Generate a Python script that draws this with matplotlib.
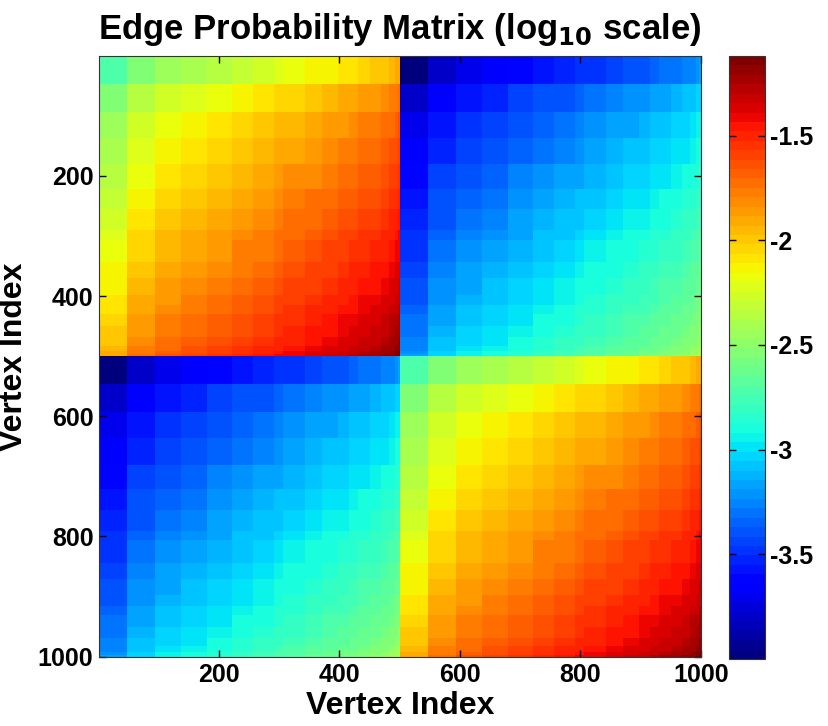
import numpy as np
import matplotlib
matplotlib.use("Agg")
import matplotlib.pyplot as plt

# ---- data ----
# degree classes within each community (vertex index boundaries, 500 vertices per community)
class_bounds = [0, 46, 93, 136, 180, 221, 255, 290, 306, 343, 370, 397, 415, 430, 450, 468, 482, 491, 496, 500]
# log10 of vertex weight for each class (relative)
class_logw = [0.00, 0.17, 0.25, 0.30, 0.35, 0.40, 0.44, 0.48, 0.51, 0.55, 0.58, 0.61, 0.63, 0.66, 0.68, 0.71, 0.74, 0.77, 0.79]
n_communities = 2
community_size = 500
log_p_in = -2.70   # log10 edge prob. between lowest classes, same community
log_p_out = -3.98  # log10 edge prob. between lowest classes, different communities
clim = (-4.0, -1.12)
xticks = [200, 400, 600, 800, 1000]
yticks = [200, 400, 600, 800, 1000]
cbar_ticks = [-3.5, -3.0, -2.5, -2.0, -1.5]
cbar_ticklabels = ["-3.5", "-3", "-2.5", "-2", "-1.5"]

# ---- build matrix ----
g_comm = np.zeros(community_size)
for k in range(len(class_logw)):
    g_comm[class_bounds[k]:class_bounds[k + 1]] = class_logw[k]
g = np.tile(g_comm, n_communities)
comm = np.repeat(np.arange(n_communities), community_size)
same = comm[:, None] == comm[None, :]
M = np.where(same, log_p_in, log_p_out) + g[:, None] + g[None, :]
N = M.shape[0]

plt.rcParams['font.family'] = ['Liberation Sans', 'DejaVu Sans']
plt.rcParams['font.weight'] = 'bold'

fig = plt.figure(figsize=(8.29, 7.26), dpi=100)
ax = fig.add_axes([99 / 829, 1 - 657 / 726, 602 / 829, 601 / 726])
cmap = plt.get_cmap('jet', 64)
im = ax.imshow(M, cmap=cmap, vmin=clim[0], vmax=clim[1], aspect='auto',
               extent=[0.5, N + 0.5, N + 0.5, 0.5], interpolation='nearest')
ax.set_xticks(xticks)
ax.set_yticks(yticks)
ax.tick_params(direction='in', length=5, width=1, top=True, right=True,
               labelsize=18, pad=4)
for lab in ax.get_xticklabels() + ax.get_yticklabels():
    lab.set_fontweight('bold')
ax.set_xlabel('Vertex Index', fontsize=23, fontweight='bold', labelpad=3)
ax.set_ylabel('Vertex Index', fontsize=23, fontweight='bold', labelpad=6)
ax.set_title(r'Edge Probability Matrix (log$_{\mathbf{10}}$ scale)', fontsize=25,
             fontweight='bold', pad=12)
for s in ax.spines.values():
    s.set_color('#333333')

cax = fig.add_axes([729 / 829, 1 - 659 / 726, 36 / 829, 603 / 726])
cb = fig.colorbar(im, cax=cax)
cb.set_ticks(cbar_ticks)
cb.set_ticklabels(cbar_ticklabels)
cax.tick_params(direction='in', length=5, width=1, labelsize=18, left=True, right=True)
for lab in cax.get_yticklabels():
    lab.set_fontweight('bold')
cb.outline.set_edgecolor('#333333')

fig.savefig('out.png', dpi=100)
